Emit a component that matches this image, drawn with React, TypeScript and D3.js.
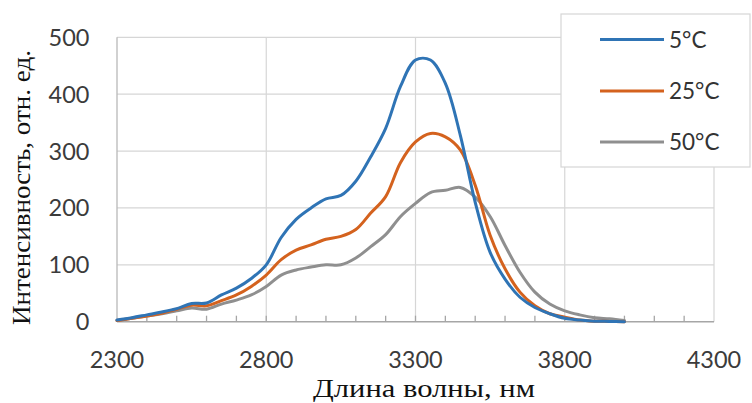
import React from "react";
import * as d3 from "d3";

// Wavelength grid, nm
const wavelengths = [
  2300, 2350, 2400, 2450, 2500, 2550, 2600, 2650, 2700, 2750, 2800, 2850, 2900, 2950,
  3000, 3050, 3100, 3150, 3200, 3250, 3300, 3350, 3400, 3450, 3500, 3550, 3600, 3650,
  3700, 3750, 3800, 3850, 3900, 3950, 4000,
];

// Intensity, arb. units
const t5 = [
  3, 7, 12, 17, 23, 32, 33, 47, 59, 76, 100, 148, 180, 200, 216, 222, 247, 290, 340, 414,
  460, 460, 419, 328, 210, 122, 75, 43, 25, 14, 6, 3, 1, 0.5, 0,
];
const t25 = [
  2, 6, 10, 15, 22, 29, 28, 37, 47, 62, 82, 109, 126, 135, 145, 150, 162, 191, 220, 280,
  316, 331, 325, 302, 240, 152, 93, 52, 28, 14, 8, 3, 1, 0.5, 0,
];
const t50 = [
  2, 6, 10, 14, 19, 24, 22, 31, 38, 47, 62, 82, 91, 96, 100, 100, 112, 132, 153, 185,
  208, 227, 231, 236, 219, 185, 134, 87, 52, 31, 19, 12, 7, 5, 2,
];

const seriesNames = ["5°C", "25°C", "50°C"];
const seriesColors = ["#2f74b5", "#d4621e", "#8f8f8f"];
const seriesValues = [t5, t25, t50];

const xTicks = [2300, 2800, 3300, 3800, 4300];
const xMinorTicks = d3.range(2400, 4300, 100);
const yTicks = [0, 100, 200, 300, 400, 500];

const W = 752;
const H = 403;
const plot = { left: 117, right: 714, top: 37.3, bottom: 321.7 };

export default function App() {
  const x = d3.scaleLinear().domain([2300, 4300]).range([plot.left, plot.right]);
  const y = d3.scaleLinear().domain([0, 500]).range([plot.bottom, plot.top]);

  const line = d3
    .line<[number, number]>()
    .x((d) => x(d[0]))
    .y((d) => y(Math.max(0, d[1])))
    .curve(d3.curveCatmullRom.alpha(0.5));

  const tickFont = "Lato, 'Open Sans', sans-serif";
  const serif = "'Liberation Serif', 'DejaVu Serif', serif";

  const legend = { x: 561, y: 14, w: 189, h: 153 };
  const legendRows = [39.5, 91, 142];

  return (
    <svg
      width={W}
      height={H}
      style={{ position: "absolute", left: 0, top: 0, background: "#fff" }}
    >
      {/* grid */}
      {yTicks
        .filter((t) => t > 0)
        .map((t) => (
          <line
            key={"gy" + t}
            x1={plot.left}
            x2={plot.right}
            y1={y(t)}
            y2={y(t)}
            stroke="#d6d6d6"
            strokeWidth={1.2}
          />
        ))}
      {xTicks
        .filter((t) => t > 2300)
        .map((t) => (
          <line
            key={"gx" + t}
            x1={x(t)}
            x2={x(t)}
            y1={plot.top}
            y2={plot.bottom}
            stroke="#d6d6d6"
            strokeWidth={1.2}
          />
        ))}

      {/* axes */}
      <line x1={plot.left} x2={plot.left} y1={plot.top} y2={plot.bottom} stroke="#b8b8b8" strokeWidth={1.3} />
      <line x1={plot.left} x2={plot.right} y1={plot.bottom} y2={plot.bottom} stroke="#a6a6a6" strokeWidth={1.5} />
      {xMinorTicks.map((t) => (
        <line
          key={"mt" + t}
          x1={x(t)}
          x2={x(t)}
          y1={plot.bottom - 6}
          y2={plot.bottom}
          stroke="#a6a6a6"
          strokeWidth={1.3}
        />
      ))}

      {/* curves */}
      {seriesValues.map((vals, i) => (
        <path
          key={seriesNames[i]}
          d={line(wavelengths.map((w, j) => [w, vals[j]] as [number, number])) || ""}
          fill="none"
          stroke={seriesColors[i]}
          strokeWidth={3}
          strokeLinejoin="round"
          strokeLinecap="round"
        />
      )).reverse()}

      {/* tick labels */}
      {yTicks.map((t) => (
        <text
          key={"yl" + t}
          x={89.5}
          y={y(t)}
          dy="0.36em"
          textAnchor="end"
          fontFamily={tickFont}
          fontSize={23.5}
          fill="#3b3b3b"
        >
          {t}
        </text>
      ))}
      {xTicks.map((t) => (
        <text
          key={"xl" + t}
          x={x(t)}
          y={368}
          textAnchor="middle"
          fontFamily={tickFont}
          fontSize={23.5}
          fill="#3b3b3b"
        >
          {t}
        </text>
      ))}

      {/* axis titles */}
      <text
        x={424}
        y={397}
        textAnchor="middle"
        fontFamily={serif}
        fontSize={26}
        textLength={222}
        lengthAdjust="spacingAndGlyphs"
        fill="#111"
      >
        Длина волны, нм
      </text>
      <text
        transform={`translate(30, 187.5) rotate(-90)`}
        textAnchor="middle"
        fontFamily={serif}
        fontSize={26}
        textLength={275}
        lengthAdjust="spacingAndGlyphs"
        fill="#111"
      >
        Интенсивность, отн. ед.
      </text>

      {/* legend */}
      <rect
        x={legend.x}
        y={legend.y}
        width={legend.w}
        height={legend.h}
        fill="#fff"
        stroke="#d6d6d6"
        strokeWidth={1.2}
      />
      {seriesNames.map((name, i) => (
        <g key={"lg" + name}>
          <line
            x1={600}
            x2={664}
            y1={legendRows[i]}
            y2={legendRows[i]}
            stroke={seriesColors[i]}
            strokeWidth={3}
          />
          <text
            x={669}
            y={legendRows[i]}
            dy="0.36em"
            fontFamily={tickFont}
            fontSize={22.5}
            fill="#333"
          >
            {name}
          </text>
        </g>
      ))}
    </svg>
  );
}
